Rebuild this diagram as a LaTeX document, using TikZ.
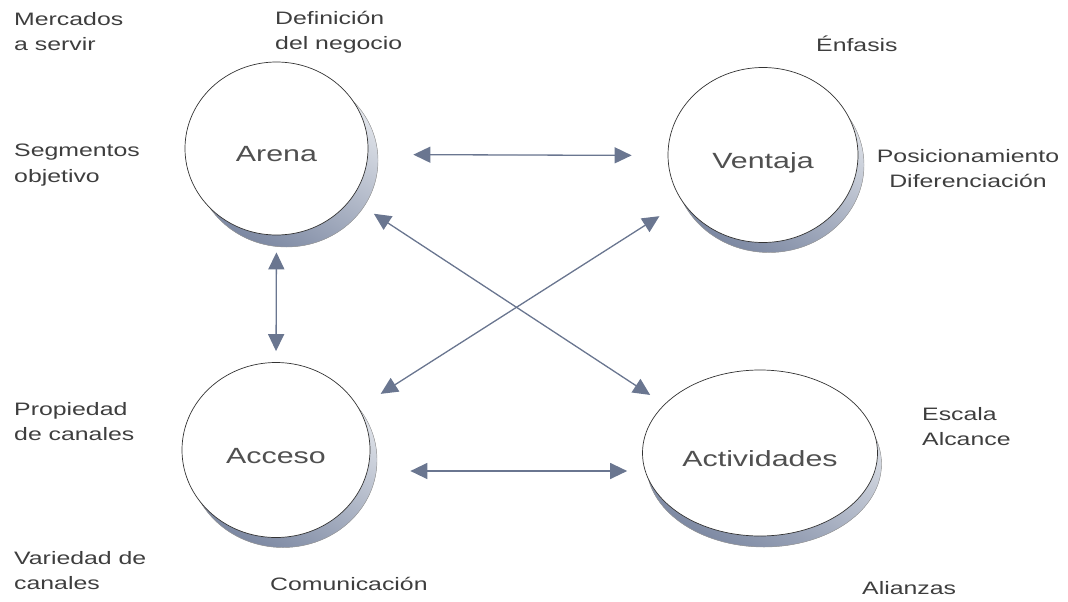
\documentclass[tikz,border=0pt]{standalone}
\usepackage{fontspec}
\setmainfont[FakeStretch=1.38]{Liberation Sans}
\usetikzlibrary{arrows.meta,shapes.geometric,shadows}

\definecolor{ink}{HTML}{3E3E3E}
\definecolor{diskink}{HTML}{505050}
\definecolor{arrowblue}{HTML}{6A7690}
\definecolor{rimdark}{HTML}{7C88A2}
\definecolor{rimlight}{HTML}{E6E9EE}

\tikzset{
  disk/.style={ellipse, draw=black!80, line width=0.7pt, fill=white,
    inner sep=0pt, text=diskink, font=\fontsize{22}{26}\selectfont,
    text height=26pt, text depth=0pt},
  rim/.style 2 args={drop shadow={shadow xshift=#1, shadow yshift=#2,
    opacity=1, left color=rimlight, right color=rimdark, shading angle=-30,
    draw=black!40, line width=0.4pt}},
  lab/.style={text=ink, font=\fontsize{18}{25.5}\selectfont, inner sep=0pt},
  conn/.style={{Triangle[length=17pt,width=16pt]}-{Triangle[length=17pt,width=16pt]},
    draw=arrowblue, fill=arrowblue, line width=1.3pt}
}

\begin{document}
\begin{tikzpicture}[x=1pt,y=-1pt]
\useasboundingbox (0,0) rectangle (1068,602);

% the four strategy disks
\node[disk, rim={10pt}{-12pt}, minimum width=183pt, minimum height=173pt] (arena) at (276.5,148.5) {Arena};
\node[disk, rim={6pt}{-10pt}, minimum width=190pt, minimum height=175pt] (ventaja) at (763,155) {Ventaja};
\node[disk, rim={7pt}{-10pt}, minimum width=188pt, minimum height=175pt] (acceso) at (276,450) {Acceso};
\node[disk, rim={4pt}{-11pt}, minimum width=235pt, minimum height=166pt] (activ) at (760,453) {Actividades};

% connections between the disks
\draw[conn, shorten <=45pt, shorten >=36pt] ([yshift=-6pt]arena.east) -- ([yshift=-0.5pt]ventaja.west);
\draw[conn, shorten <=17pt, shorten >=11pt] (arena.south) -- (acceso.north);
\draw[conn, shorten <=40pt, shorten >=15pt] ([yshift=-21pt]acceso.east) -- ([yshift=-18pt]activ.west);
\draw[conn, shorten <=27pt, shorten >=17pt] (arena.-34.8) -- (activ.153.4);
\draw[conn, shorten <=26pt, shorten >=27pt] (acceso.27) -- (ventaja.210);

% side labels
\node[lab, align=left, anchor=north west] (mercados) at (14,12) {Mercados\\a servir};
\node[lab, align=left, anchor=north west] (definicion) at (275,11) {Definición\\del negocio};
\node[lab, anchor=base west] (enfasis) at (816,52) {Énfasis};
\node[lab, align=left, anchor=north west] (segmentos) at (14,144) {Segmentos\\objetivo};
\node[lab, align=center, anchor=north] (posic) at (968,149) {Posicionamiento\\Diferenciación};
\node[lab, align=left, anchor=north west] (propiedad) at (14,402) {Propiedad\\de canales};
\node[lab, align=left, anchor=north west] (escala) at (922,407) {Escala\\Alcance};
\node[lab, align=left, anchor=north west] (variedad) at (14,551) {Variedad de\\canales};
\node[lab, anchor=base west] (comunicacion) at (270,590) {Comunicación};
\node[lab, anchor=base west] (alianzas) at (862,594) {Alianzas};
\end{tikzpicture}
\end{document}
